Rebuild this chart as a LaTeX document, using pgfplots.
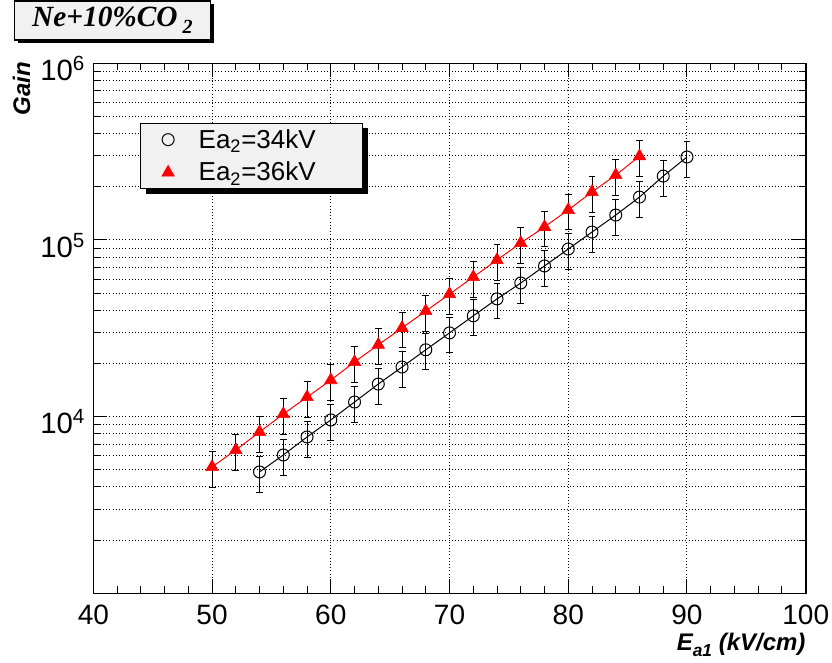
\documentclass[border=0pt]{standalone}
\usepackage{fontspec}
\setmainfont{Liberation Sans}
\newfontfamily\seriffont{Liberation Serif}
\usepackage{pgfplots}
\pgfplotsset{compat=1.18}
\usetikzlibrary{shadows}
\definecolor{paneGray}{rgb}{0.945,0.945,0.945}
\pgfplotsset{mylegimg/.style={legend image code/.code={\path (0pt,0pt) (16pt,0pt); \draw[##1] plot coordinates {(8pt,0pt)};}}}
\begin{document}
\begin{tikzpicture}
\useasboundingbox (-70pt,-51.5pt) rectangle (554pt,445pt);
\begin{axis}[
  at={(0pt,0pt)}, anchor=south west,
  scale only axis, width=534.3pt, height=397.5pt,
  xmin=40, xmax=100, ymode=log, ymin=1000, ymax=1000000,
  xtick={40,50,60,70,80,90,100}, minor x tick num=4,
  ytick={10000,100000,1000000},
  yticklabels={10\textsuperscript{4},10\textsuperscript{5},10\textsuperscript{6}},
  minor ytick={2000,3000,4000,5000,6000,7000,8000,9000,20000,30000,40000,50000,60000,70000,80000,90000,200000,300000,400000,500000,600000,700000,800000,900000},
  /pgf/number format/assume math mode=true,
  xmajorgrids=true, ymajorgrids=true, yminorgrids=true,
  major grid style={black, dotted, line width=0.75pt},
  minor grid style={black, dotted, line width=0.75pt},
  axis line style={black, line width=1.2pt},
  tick style={black, line width=0.75pt},
  major tick length=10.5pt, minor tick length=5.25pt,
  tick label style={font=\fontsize{21}{21}\selectfont},
  xticklabel style={inner sep=0pt, yshift=-8.5pt},
  yticklabel style={inner sep=0pt, xshift=-6pt, yshift=-4pt, font=\fontsize{22}{22}\selectfont},
  xlabel={\bfseries\itshape E\raisebox{-4.5pt}{\fontsize{13}{13}\selectfont a1} (kV/cm)},
  xlabel style={at={(axis description cs:1,-0.107)}, anchor=base east, inner sep=0pt, font=\fontsize{18}{18}\selectfont},
  ylabel={\bfseries\itshape Gain},
  ylabel style={at={(axis description cs:-0.0889,1.0025)}, anchor=base east, inner sep=0pt, font=\fontsize{18}{18}\selectfont},
  legend style={at={(axis description cs:0.0656,0.888)}, anchor=north west,
    draw=black, line width=0.8pt, fill=paneGray,
    drop shadow={shadow xshift=3.75pt, shadow yshift=-3.75pt, fill=black, opacity=1},
    font=\fontsize{19.5}{19.5}\selectfont,
    inner xsep=12.25pt, inner ysep=4.5pt, column sep=14.5pt, row sep=9pt,
    nodes={inner sep=0pt}},
  legend cell align=left,
]
\addplot[black, line width=0.75pt, mark=o, mark size=4.5pt, forget plot,
  error bars/.cd, y dir=both, y explicit relative,
  error bar style={black, line width=0.75pt},
  error mark options={rotate=90, mark size=2.6pt, black, line width=0.75pt}]
coordinates {
(54,4865) +- (0,0.23)
(56,6070) +- (0,0.23)
(58,7675) +- (0,0.23)
(60,9580) +- (0,0.23)
(62,12100) +- (0,0.23)
(64,15300) +- (0,0.23)
(66,19100) +- (0,0.23)
(68,23900) +- (0,0.23)
(70,29800) +- (0,0.23)
(72,37200) +- (0,0.23)
(74,46400) +- (0,0.23)
(76,57100) +- (0,0.23)
(78,71300) +- (0,0.23)
(80,88900) +- (0,0.23)
(82,110900) +- (0,0.23)
(84,138400) +- (0,0.23)
(86,175000) +- (0,0.23)
(88,230000) +- (0,0.23)
(90,295000) +- (0,0.23)
};
\addplot[red, line width=0.75pt, mark=triangle*, mark size=5.4pt, mark options={fill=red, draw=red, line width=0.4pt}, forget plot,
  error bars/.cd, y dir=both, y explicit relative,
  error bar style={black, line width=0.75pt},
  error mark options={rotate=90, mark size=2.6pt, black, line width=0.75pt}]
coordinates {
(50,5190) +- (0,0.23)
(52,6480) +- (0,0.23)
(54,8190) +- (0,0.23)
(56,10350) +- (0,0.23)
(58,12900) +- (0,0.23)
(60,16100) +- (0,0.23)
(62,20400) +- (0,0.23)
(64,25500) +- (0,0.23)
(66,31800) +- (0,0.23)
(68,39600) +- (0,0.23)
(70,49400) +- (0,0.23)
(72,61700) +- (0,0.23)
(74,77100) +- (0,0.23)
(76,96200) +- (0,0.23)
(78,118600) +- (0,0.23)
(80,148000) +- (0,0.23)
(82,187000) +- (0,0.23)
(84,233000) +- (0,0.23)
(86,298000) +- (0,0.23)
};
\addlegendimage{black, mark=o, mark size=4.5pt, line width=0.75pt, mylegimg}
\addlegendentry{Ea\textsubscript{2}=34kV\hspace*{23pt}}
\addlegendimage{red, mark=triangle*, mark size=5.4pt, mark options={fill=red, draw=red, line width=0.4pt}, mylegimg}
\addlegendentry{Ea\textsubscript{2}=36kV\hspace*{23pt}}
\end{axis}
\node[draw=black, line width=1.1pt, fill=paneGray,
  drop shadow={shadow xshift=2.5pt, shadow yshift=-2.5pt, fill=black, opacity=1},
  minimum width=147pt, minimum height=29.3pt, inner sep=0pt,
  font=\seriffont\bfseries\itshape\fontsize{22}{22}\selectfont]
  at (14.3pt,429.6pt) {Ne+10\%CO\,\raisebox{-5pt}{\fontsize{15}{15}\selectfont 2}};
\end{tikzpicture}
\end{document}
